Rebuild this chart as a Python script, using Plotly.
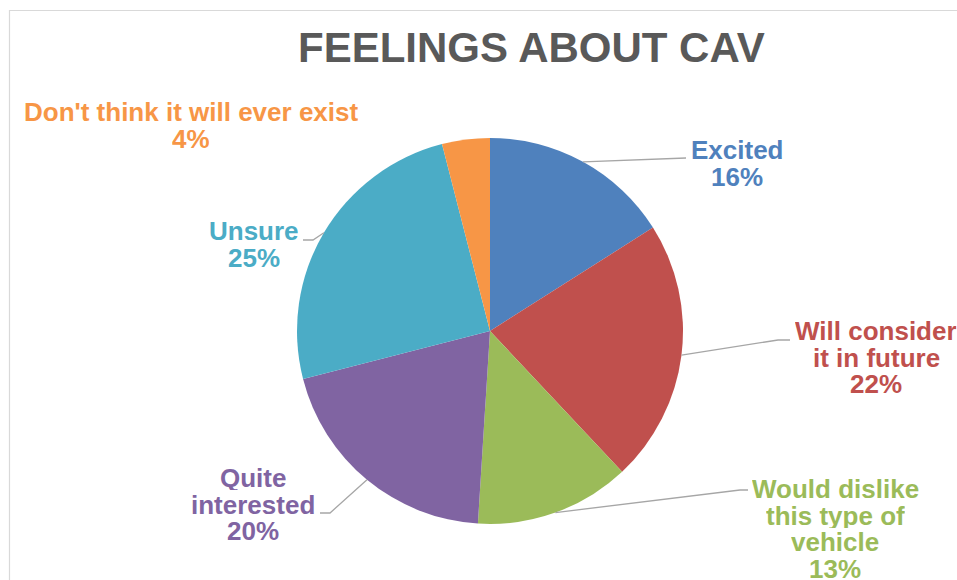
import math
import plotly.graph_objects as go

# Survey responses, clockwise from 12 o'clock
categories = [
    "Excited",
    "Will consider it in future",
    "Would dislike this type of vehicle",
    "Quite interested",
    "Unsure",
    "Don't think it will ever exist",
]
shares = [16, 22, 13, 20, 25, 4]
colors = ["#4F81BD", "#C0504D", "#9BBB59", "#8064A2", "#4BACC6", "#F79646"]

# Wrapped label lines (name lines, then the share line is appended)
label_lines = [
    ["Excited"],
    ["Will consider", "it in future"],
    ["Would dislike", "this type of", "vehicle"],
    ["Quite", "interested"],
    ["Unsure"],
    ["Don't think it will ever exist"],
]

W, H = 957, 580
CX, CY, R = 490, 331, 193          # pie centre and radius in pixels
FONT = "Liberation Sans, Arial, sans-serif"
LINE_H = 26.5


def fx(x):
    return x / W


def fy(y):
    return 1 - y / H


# Label placement: centre x of text block, y of first line
label_pos = [
    (737, 150),
    (876, 331),
    (835, 489),
    (253, 478),
    (254, 231),
    (191, 112),
]
# Leader-line elbows: (elbow point, end point); None = no leader
leaders = [
    ((686, 158), None),
    ((778, 340), (790, 340)),
    ((740, 490), (748, 490)),
    ((330, 513), (320, 513)),
    ((313, 240), (303, 240)),
    None,
]

fig = go.Figure()
fig.add_trace(go.Pie(
    labels=categories,
    values=shares,
    sort=False,
    direction="clockwise",
    rotation=0,
    marker=dict(colors=colors, line=dict(width=0)),
    textinfo="none",
    hoverinfo="label+percent",
    showlegend=False,
    domain=dict(x=[fx(CX - R), fx(CX + R)], y=[fy(CY + R), fy(CY - R)]),
))

annotations = []
shapes = []

total = sum(shares)
cum = 0
for i, v in enumerate(shares):
    mid = (cum + v / 2) / total * 2 * math.pi
    cum += v
    sx = CX + R * math.sin(mid)
    sy = CY - R * math.cos(mid)
    lx, ly = label_pos[i]
    lines = label_lines[i] + [f"{v}%"]
    for k, t in enumerate(lines):
        annotations.append(dict(
            x=fx(lx), y=fy(ly + k * LINE_H), xref="paper", yref="paper",
            text=f"<b>{t}</b>", showarrow=False,
            xanchor="center", yanchor="middle", height=24,
            font=dict(family=FONT, size=26, color=colors[i]),
        ))
    ld = leaders[i]
    if ld is not None:
        pts = [(sx, sy), ld[0]] + ([ld[1]] if ld[1] else [])
        path = "M " + " L ".join(f"{fx(x)},{fy(y)}" for x, y in pts)
        shapes.append(dict(type="path", xref="paper", yref="paper", path=path,
                           line=dict(color="#A6A6A6", width=1.3)))

annotations.append(dict(
    x=fx(531), y=fy(48), xref="paper", yref="paper",
    text="<b>FEELINGS ABOUT CAV</b>", showarrow=False,
    xanchor="center", yanchor="middle",
    font=dict(family=FONT, size=42, color="#595959"),
))

# Chart-area border
shapes.append(dict(type="rect", xref="paper", yref="paper",
                   x0=fx(9.5), y0=fy(H + 5), x1=fx(W + 5), y1=fy(10.5),
                   line=dict(color="#D9D9D9", width=1.2)))

fig.update_layout(
    width=W, height=H,
    margin=dict(l=0, r=0, t=0, b=0),
    paper_bgcolor="white",
    plot_bgcolor="white",
    annotations=annotations,
    shapes=shapes,
)

fig.write_html("out.html")
